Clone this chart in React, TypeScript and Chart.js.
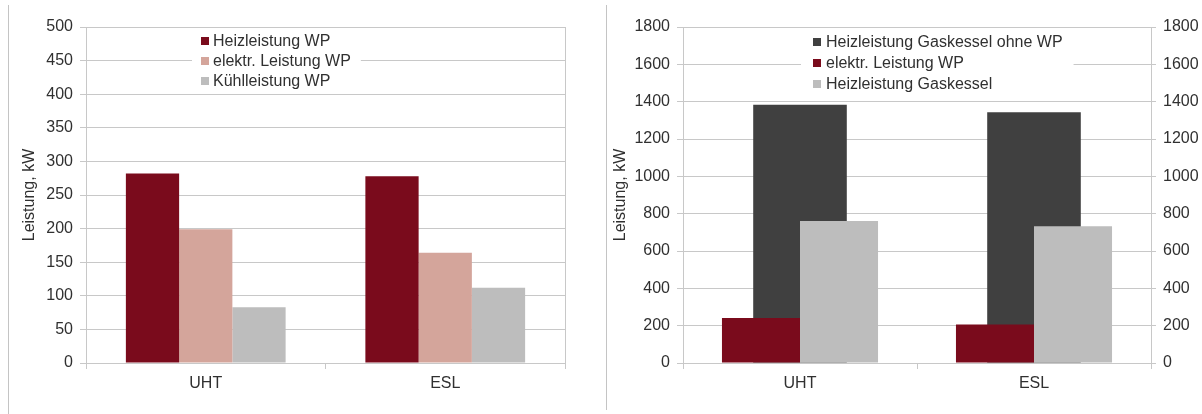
import { useEffect, useRef } from 'react';
import { Chart, registerables } from 'chart.js';

Chart.register(...registerables);

// ---- data -------------------------------------------------------------
const categories = ['UHT', 'ESL'];

// Wärmepumpe (linkes Diagramm), kW
const heizleistungWP = [282, 278];
const elektrLeistungWP = [199, 164];
const kuehlleistungWP = [83, 112];

// Gaskessel mit / ohne Wärmepumpe (rechtes Diagramm), kW
const heizleistungGaskesselOhneWP = [1384, 1343];
const elektrLeistungWPGas = [241, 206];
const heizleistungGaskessel = [761, 732];

const leftAxis = { min: 0, max: 500, step: 50 };
const rightAxis = { min: 0, max: 1800, step: 200 };

const axisTitle = 'Leistung, kW';

// ---- styling ----------------------------------------------------------
const FONT = '"Liberation Sans", Arial, sans-serif';
const TEXT = '#303030';
const GRID = '#c8c8c8';
const DARK_RED = '#7a0b1c';
const ROSE = '#d4a59b';
const LIGHT_GREY = '#bdbdbd';
const DARK_GREY = '#404040';

// plain integers, no thousands separator
const plainNumber = (v: number | string) => String(v);

// Legend drawn inside the plot area on a white box
const insetLegend = {
  id: 'insetLegend',
  afterDraw(chart: any, _args: any, opts: any) {
    if (!opts || !opts.display) return;
    const { ctx, chartArea } = chart;
    const datasets = chart.data.datasets;
    ctx.save();
    ctx.font = `${opts.fontSize}px ${FONT}`;
    const textW = Math.max(...datasets.map((d: any) => ctx.measureText(d.label).width));
    const markerX = chartArea.left + opts.left;
    const firstY = chartArea.top + opts.top;
    const boxX = markerX - opts.padLeft;
    const boxW = opts.padLeft + opts.marker + opts.gap + textW + opts.padRight;
    const boxY = firstY - opts.rowHeight / 2 - 2;
    const boxH = opts.rowHeight * datasets.length + 4;
    ctx.fillStyle = '#ffffff';
    ctx.fillRect(boxX, boxY, boxW, boxH);
    datasets.forEach((d: any, i: number) => {
      const cy = firstY + i * opts.rowHeight;
      ctx.fillStyle = d.backgroundColor;
      ctx.fillRect(markerX, Math.round(cy - opts.marker / 2), opts.marker, opts.marker);
      ctx.fillStyle = TEXT;
      ctx.textBaseline = 'middle';
      ctx.textAlign = 'left';
      ctx.fillText(d.label, markerX + opts.marker + opts.gap, cy + 1);
    });
    ctx.restore();
  },
};

const tickFont = { family: FONT, size: 16 };

function xScale() {
  return {
    type: 'category' as const,
    offset: true,
    grid: {
      display: true,
      drawOnChartArea: true,
      drawTicks: true,
      tickLength: 6,
      // only the outer boundaries run through the plot; inner ones are tick marks
      color: (c: any) => (c.index === 1 ? 'rgba(0,0,0,0)' : GRID),
      tickColor: GRID,
      lineWidth: 1,
    },
    border: { display: true, color: GRID },
    ticks: { font: tickFont, color: TEXT, padding: 5 },
    afterFit: (s: any) => {
      s.height = 51;
    },
  };
}

function yScale(range: { min: number; max: number; step: number }, width: number, titlePad: number) {
  return {
    type: 'linear' as const,
    position: 'left' as const,
    min: range.min,
    max: range.max,
    ticks: { stepSize: range.step, font: tickFont, color: TEXT, padding: 7, callback: plainNumber },
    grid: { color: GRID, tickColor: GRID, tickLength: 6, lineWidth: 1 },
    border: { display: true, color: GRID },
    title: {
      display: true,
      text: axisTitle,
      font: { family: FONT, size: 16 },
      color: TEXT,
      padding: { top: titlePad, bottom: 0 },
    },
    afterFit: (s: any) => {
      s.width = width;
    },
  };
}

export default function App() {
  const leftRef = useRef<HTMLCanvasElement>(null);
  const rightRef = useRef<HTMLCanvasElement>(null);

  useEffect(() => {
    if (!leftRef.current || !rightRef.current) return;

    const left = new Chart(leftRef.current, {
      type: 'bar',
      data: {
        labels: categories,
        datasets: [
          { label: 'Heizleistung WP', data: heizleistungWP, backgroundColor: DARK_RED },
          { label: 'elektr. Leistung WP', data: elektrLeistungWP, backgroundColor: ROSE },
          { label: 'Kühlleistung WP', data: kuehlleistungWP, backgroundColor: LIGHT_GREY },
        ].map((d) => ({ ...d, categoryPercentage: 0.667, barPercentage: 1, borderWidth: 0 })),
      },
      options: {
        responsive: false,
        animation: false,
        events: [],
        layout: { padding: { top: 27, right: 41, bottom: 0, left: 0 } },
        scales: {
          x: xScale(),
          y: yScale(leftAxis, 77, 11),
        },
        plugins: {
          legend: { display: false },
          tooltip: { enabled: false },
          insetLegend: {
            display: true,
            fontSize: 16,
            left: 115,
            top: 14,
            rowHeight: 20,
            marker: 8,
            gap: 4,
            padLeft: 9,
            padRight: 10,
          },
        } as any,
      },
      plugins: [insetLegend],
    });

    const right = new Chart(rightRef.current, {
      type: 'bar',
      data: {
        labels: categories,
        datasets: [
          {
            label: 'Heizleistung Gaskessel ohne WP',
            data: heizleistungGaskesselOhneWP,
            backgroundColor: DARK_GREY,
            yAxisID: 'y2',
            grouped: false,
            order: 2,
            categoryPercentage: 0.4,
            barPercentage: 1,
            borderWidth: 0,
          },
          {
            label: 'elektr. Leistung WP',
            data: elektrLeistungWPGas,
            backgroundColor: DARK_RED,
            yAxisID: 'y',
            order: 1,
            categoryPercentage: 0.667,
            barPercentage: 1,
            borderWidth: 0,
          },
          {
            label: 'Heizleistung Gaskessel',
            data: heizleistungGaskessel,
            backgroundColor: LIGHT_GREY,
            yAxisID: 'y',
            order: 1,
            categoryPercentage: 0.667,
            barPercentage: 1,
            borderWidth: 0,
          },
        ],
      },
      options: {
        responsive: false,
        animation: false,
        events: [],
        layout: { padding: { top: 27, right: 0, bottom: 0, left: 0 } },
        scales: {
          x: xScale(),
          y: yScale(rightAxis, 76, 4),
          y2: {
            type: 'linear',
            position: 'right',
            min: rightAxis.min,
            max: rightAxis.max,
            ticks: { stepSize: rightAxis.step, font: tickFont, color: TEXT, padding: 7, callback: plainNumber },
            grid: { drawOnChartArea: false, color: GRID, tickColor: GRID, tickLength: 5 },
            border: { display: true, color: GRID },
            afterFit: (s: any) => {
              s.width = 51;
            },
          },
        },
        plugins: {
          legend: { display: false },
          tooltip: { enabled: false },
          insetLegend: {
            display: true,
            fontSize: 16,
            left: 130,
            top: 15,
            rowHeight: 21,
            marker: 8,
            gap: 5,
            padLeft: 12,
            padRight: 11,
          },
        } as any,
      },
      plugins: [insetLegend],
    });

    return () => {
      left.destroy();
      right.destroy();
    };
  }, []);

  return (
    <div
      style={{
        position: 'absolute',
        left: 0,
        top: 0,
        width: 1202,
        height: 414,
        background: '#ffffff',
        overflow: 'hidden',
      }}
    >
      <div style={{ position: 'absolute', left: 8, top: 5, width: 1, height: 409, background: '#c4c4c4' }} />
      <div style={{ position: 'absolute', left: 606, top: 5, width: 1, height: 405, background: '#c4c4c4' }} />
      <canvas
        ref={leftRef}
        width={597}
        height={414}
        style={{ position: 'absolute', left: 9, top: 0, width: 597, height: 414 }}
      />
      <canvas
        ref={rightRef}
        width={595}
        height={414}
        style={{ position: 'absolute', left: 607, top: 0, width: 595, height: 414 }}
      />
    </div>
  );
}
